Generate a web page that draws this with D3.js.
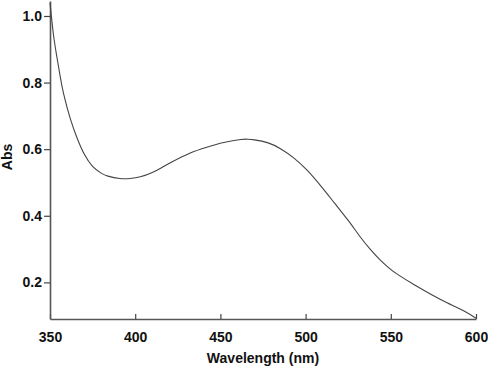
<!DOCTYPE html>
<html><head><meta charset="utf-8">
<script src="https://cdn.jsdelivr.net/npm/d3@7/dist/d3.min.js"></script>
<style>
html,body{margin:0;padding:0;background:#fff;}
svg{display:block;}
.tick text{font-family:"Liberation Sans",Arial,sans-serif;font-weight:bold;font-size:14px;fill:#111;}
</style></head>
<body><svg id="c" width="488" height="369"></svg>
<script>
const wavelength = [350, 352, 354, 356, 358, 362, 366, 370, 375, 380, 384, 391, 397, 403, 410, 416, 422, 432, 442, 452, 462, 466, 470, 478, 485, 493, 501, 509, 517, 525, 532, 538, 544, 549, 554, 564, 574, 583, 593, 600];
const absorbance = [1.040, 0.945, 0.878, 0.818, 0.766, 0.690, 0.632, 0.586, 0.548, 0.528, 0.519, 0.512, 0.512, 0.517, 0.530, 0.546, 0.563, 0.588, 0.606, 0.620, 0.629, 0.630, 0.628, 0.619, 0.602, 0.574, 0.536, 0.489, 0.438, 0.386, 0.337, 0.299, 0.266, 0.243, 0.224, 0.192, 0.163, 0.139, 0.114, 0.092];
const xTicks = [350, 400, 450, 500, 550, 600];
const yTicks = [0.2, 0.4, 0.6, 0.8, 1.0];
const xTitle = "Wavelength (nm)";
const yTitle = "Abs";

const svg = d3.select("#c");
const x = d3.scaleLinear().domain([350, 600]).range([50, 476]);
const y = d3.scaleLinear().domain([0.09, 1.045]).range([319, 1]);

const gx = svg.append("g").attr("transform", "translate(0,319)")
  .call(d3.axisBottom(x).tickValues(xTicks).tickFormat(d3.format("d"))
    .tickSizeInner(-5).tickSizeOuter(0).tickPadding(13));
const gy = svg.append("g").attr("transform", "translate(50,0)")
  .call(d3.axisLeft(y).tickValues(yTicks).tickFormat(d3.format(".1f"))
    .tickSizeInner(6).tickSizeOuter(0).tickPadding(2));
[gx, gy].forEach(g => {
  g.select(".domain").attr("stroke", "#555").attr("stroke-width", 1.6);
  g.selectAll(".tick line").attr("stroke", "#444").attr("stroke-width", 1.2);
});

const line = d3.line().x((d, i) => x(wavelength[i])).y(d => y(d)).curve(d3.curveNatural);
svg.append("path").datum(absorbance).attr("d", line)
  .attr("fill", "none").attr("stroke", "#444").attr("stroke-width", 1.1);

svg.append("text").attr("x", 263).attr("y", 363).attr("text-anchor", "middle")
  .style("font-family", '"Liberation Sans",Arial,sans-serif').style("font-weight", "bold").style("font-size", "14px")
  .attr("fill", "#111").text(xTitle);
svg.append("text").attr("transform", "translate(12,157) rotate(-90)").attr("text-anchor", "middle")
  .style("font-family", '"Liberation Sans",Arial,sans-serif').style("font-weight", "bold").style("font-size", "14px")
  .attr("fill", "#111").text(yTitle);
</script></body></html>
